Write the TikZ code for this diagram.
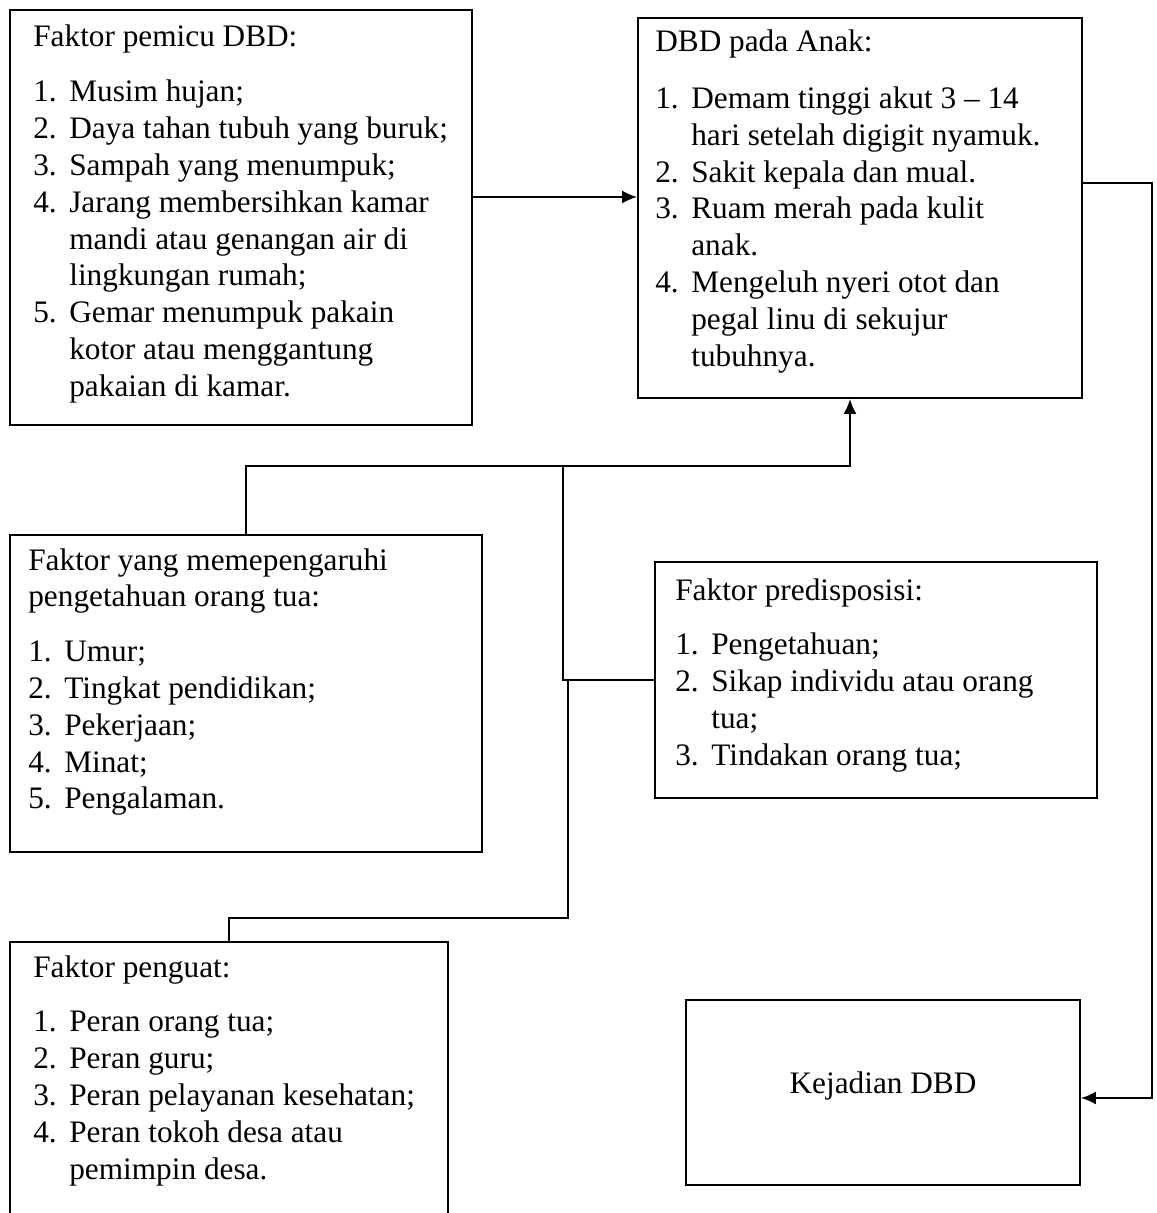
\documentclass[tikz,border=0pt]{standalone}
\usepackage{fontspec}
\setmainfont{Liberation Serif}
\usepackage{tikz}
\usetikzlibrary{positioning, calc, arrows.meta}

\tikzset{
  box/.style={draw, line width=1.1pt, inner sep=0pt},
  txt/.style={anchor=base west, inner sep=0pt, font=\fontsize{17.8}{21}\selectfont},
  link/.style={line width=1.1pt},
}
% list with hanging numbers
\newcommand{\heading}[1]{\multicolumn{2}{@{}l@{}}{#1}}
\newenvironment{boxlist}{\begin{tabular}[t]{@{}p{0.72cm}@{}l@{}}}{\end{tabular}}

\begin{document}
\begin{tikzpicture}[x=0.02cm, y=-0.02cm, >={Latex[length=3mm,width=2.6mm]}]
  \clip (0,0) rectangle (1156,1213);
  % Boxes
  \node[box, minimum width=9.24cm, minimum height=8.30cm] (pemicu) at (241,217.5) {};
  \node[box, minimum width=8.88cm, minimum height=7.60cm] (anak) at (860,208) {};
  \node[box, minimum width=9.44cm, minimum height=6.34cm] (pengaruh) at (246,693.5) {};
  \node[box, minimum width=8.84cm, minimum height=4.72cm] (predis) at (876,680) {};
  \node[box, minimum width=8.76cm, minimum height=5.80cm] (penguat) at (229,1087) {};
  \node[box, minimum width=7.88cm, minimum height=3.70cm] (kejadian) at (883,1092.5) {};

  % Texts
  \node[txt] (pemicuTxt) at (33,47) {\begin{boxlist}
    \heading{Faktor pemicu DBD:}\\[10pt]
    1. & Musim hujan;\\
    2. & Daya tahan tubuh yang buruk;\\
    3. & Sampah yang menumpuk;\\
    4. & Jarang membersihkan kamar\\
       & mandi atau genangan air di\\
       & lingkungan rumah;\\
    5. & Gemar menumpuk pakain\\
       & kotor atau menggantung\\
       & pakaian di kamar.
  \end{boxlist}};
  \node[txt] (anakTxt) at (655,52) {\begin{boxlist}
    \heading{DBD pada Anak:}\\[11pt]
    1. & Demam tinggi akut 3 -- 14\\
       & hari setelah digigit nyamuk.\\
    2. & Sakit kepala dan mual.\\
    3. & Ruam merah pada kulit\\
       & anak.\\
    4. & Mengeluh nyeri otot dan\\
       & pegal linu di sekujur\\
       & tubuhnya.
  \end{boxlist}};
  \node[txt] (pengaruhTxt) at (28,570) {\begin{boxlist}
    \heading{Faktor yang memepengaruhi}\\
    \heading{pengetahuan orang tua:}\\[10pt]
    1. & Umur;\\
    2. & Tingkat pendidikan;\\
    3. & Pekerjaan;\\
    4. & Minat;\\
    5. & Pengalaman.
  \end{boxlist}};
  \node[txt] (predisTxt) at (675,600) {\begin{boxlist}
    \heading{Faktor predisposisi:}\\[10pt]
    1. & Pengetahuan;\\
    2. & Sikap individu atau orang\\
       & tua;\\
    3. & Tindakan orang tua;
  \end{boxlist}};
  \node[txt] (penguatTxt) at (33,977) {\begin{boxlist}
    \heading{Faktor penguat:}\\[10pt]
    1. & Peran orang tua;\\
    2. & Peran guru;\\
    3. & Peran pelayanan kesehatan;\\
    4. & Peran tokoh desa atau\\
       & pemimpin desa.
  \end{boxlist}};
  \node[txt, anchor=center] (kejadianTxt) at ([yshift=0.14cm]kejadian.center) {Kejadian DBD};

  % Connectors
  \coordinate (rowAB) at (0,197);
  \draw[link, ->] (pemicu.east |- rowAB) -- (anak.west |- rowAB);

  \coordinate (outB) at (1152,183);
  \coordinate (inF) at (1152,1098);
  \draw[link, ->] (anak.east |- outB) -- (outB) -- (inF) -- (kejadian.east |- inF);

  \coordinate (hub) at (563,466);
  \coordinate (up) at (850,466);
  \draw[link, ->] (pengaruh.north) |- (hub) -- (up) -- (anak.south -| up);
  \draw[link] (predis.west) -| (hub);

  \coordinate (elbow) at (568,918);
  \draw[link] (penguat.north) |- (elbow) -- (elbow |- predis.west);
\end{tikzpicture}
\end{document}
